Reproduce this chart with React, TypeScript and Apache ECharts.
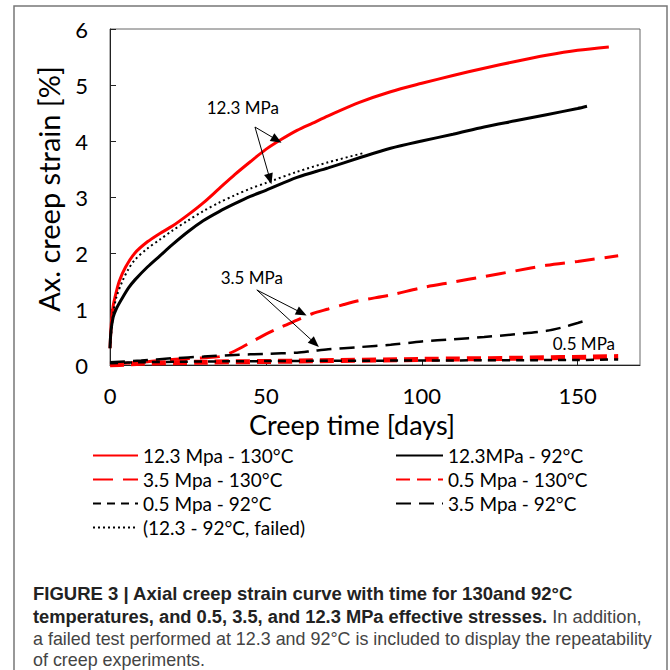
import React, { useEffect, useRef } from "react";
import * as echarts from "echarts";

// ---- data (days, axial creep strain %) ----
const red123_t = [0, 0.5, 1, 2, 3, 5, 8, 12, 16, 20, 25, 30, 35, 40, 45, 50, 55, 60, 65, 70, 80, 90, 100, 110, 120, 130, 140, 150, 160];
const red123_v = [0.3, 0.8, 1.05, 1.3, 1.5, 1.75, 2.0, 2.2, 2.35, 2.48, 2.68, 2.9, 3.15, 3.4, 3.63, 3.85, 4.03, 4.19, 4.32, 4.45, 4.69, 4.88, 5.03, 5.17, 5.3, 5.42, 5.53, 5.62, 5.68];

const blk123_t = [0, 0.3, 1, 2, 4, 6, 8, 12, 16, 20, 25, 30, 35, 40, 45, 50, 60, 70, 80, 90, 100, 110, 120, 130, 140, 150, 153];
const blk123_v = [0.3, 0.6, 0.85, 1.0, 1.2, 1.38, 1.52, 1.75, 1.95, 2.15, 2.38, 2.58, 2.74, 2.88, 3.01, 3.12, 3.35, 3.52, 3.7, 3.87, 4.0, 4.12, 4.25, 4.36, 4.47, 4.58, 4.62];

const failed_t = [0, 1, 2, 4, 6, 8, 12, 16, 20, 25, 30, 35, 40, 45, 50, 60, 70, 81];
const failed_v = [0.3, 0.9, 1.2, 1.5, 1.72, 1.88, 2.08, 2.24, 2.4, 2.58, 2.75, 2.9, 3.03, 3.15, 3.25, 3.45, 3.62, 3.78];

const red35_t = [0, 10, 20, 30, 35, 40, 45, 50, 55, 60, 65, 70, 75, 80, 90, 100, 110, 120, 130, 140, 150, 163];
const red35_v = [0.02, 0.05, 0.1, 0.13, 0.15, 0.25, 0.4, 0.55, 0.68, 0.8, 0.92, 1.0, 1.08, 1.15, 1.25, 1.38, 1.48, 1.58, 1.68, 1.78, 1.85, 1.95];

const blk35_t = [0, 10, 20, 30, 40, 50, 60, 65, 70, 80, 90, 100, 110, 120, 130, 140, 145, 150, 154];
const blk35_v = [0.05, 0.08, 0.12, 0.15, 0.18, 0.2, 0.22, 0.25, 0.28, 0.32, 0.36, 0.42, 0.46, 0.5, 0.55, 0.61, 0.67, 0.75, 0.82];

const blk05_t = [0, 10, 50, 100, 150, 163];
const blk05_v = [0.03, 0.05, 0.07, 0.08, 0.09, 0.1];

const red05_t = [0, 10, 30, 60, 100, 130, 163];
const red05_v = [0.0, 0.03, 0.05, 0.07, 0.1, 0.12, 0.15];

const xTicks = [0, 50, 100, 150];
const yTicks = [0, 1, 2, 3, 4, 5, 6];

const seriesNames = [
  "12.3 Mpa - 130°C",
  "12.3MPa - 92°C",
  "3.5 Mpa - 130°C",
  "0.5 Mpa - 130°C",
  "0.5 Mpa - 92°C",
  "3.5 Mpa - 92°C",
  "(12.3 - 92°C, failed)",
];

const captionBold1 = "FIGURE 3 | Axial creep strain curve with time for 130and 92°C";
const captionBold2 = "temperatures, and 0.5, 3.5, and 12.3 MPa effective stresses.";
const captionNorm2 = " In addition,";
const captionNorm3 = "a failed test performed at 12.3 and 92°C is included to display the repeatability";
const captionNorm4 = "of creep experiments.";

const zip = (t: number[], v: number[]) => t.map((x, i) => [x, v[i]]);

const FONT = "Lato, 'Open Sans', sans-serif";
const CAPFONT = "'Liberation Sans Narrow', 'Liberation Sans', Arial, sans-serif";

export default function App() {
  const ref = useRef<HTMLDivElement>(null);
  useEffect(() => {
    if (!ref.current) return;
    const chart = echarts.init(ref.current, undefined, { renderer: "svg" });

    const mk = (name: string, data: number[][], color: string, width: number, type: any) => ({
      name,
      type: "line",
      data,
      showSymbol: false,
      symbol: "none",
      smooth: 0.3,
      lineStyle: { color, width, type },
      itemStyle: { color },
      z: 3,
    });

    const arrowLines = [
      [{ coord: [46.5, 4.25] }, { coord: [53.5, 4.02] }],
      [{ coord: [46.5, 4.25] }, { coord: [51.3, 3.32] }],
      [{ coord: [47.1, 1.34] }, { coord: [61.5, 0.93] }],
      [{ coord: [47.1, 1.34] }, { coord: [65.7, 0.39] }],
    ];
    const notes = [
      { name: "12.3 MPa", coord: [42.6, 4.6] },
      { name: "3.5 MPa", coord: [45.5, 1.57] },
      { name: "0.5 MPa", coord: [152, 0.39] },
    ];

    const legendCommon = {
      orient: "vertical",
      top: 441,
      itemHeight: 14,
      itemGap: 5,
      itemStyle: { opacity: 0 },
      textStyle: { fontFamily: FONT, fontSize: 19, color: "#000", lineHeight: 19 },
      selectedMode: false,
    };

    chart.setOption({
      animation: false,
      backgroundColor: "#fff",
      grid: { left: 110, top: 29, right: 30, bottom: 305, show: true, borderColor: "#666", borderWidth: 1 },
      xAxis: {
        type: "value",
        min: 0,
        max: 170,
        interval: 50,
        name: "Creep time [days]",
        nameLocation: "middle",
        nameGap: 46,
        nameMoveOverlap: false,
        nameTextStyle: { fontFamily: FONT, fontSize: 27, color: "#000", padding: [0, 46, 0, 0] },
        axisLine: { show: true, lineStyle: { color: "#222", width: 1 } },
        axisTick: { show: true, inside: true, length: 5, lineStyle: { color: "#222" } },
        axisLabel: {
          fontFamily: FONT,
          fontSize: 22,
          color: "#000",
          margin: 19,
          showMaxLabel: false,
          formatter: (v: number) => (xTicks.includes(v) ? String(v) : ""),
        },
        splitLine: { show: false },
      },
      yAxis: {
        type: "value",
        min: 0,
        max: 6,
        interval: 1,
        name: "Ax. creep strain [%]",
        nameLocation: "middle",
        nameGap: 47,
        nameMoveOverlap: false,
        nameTextStyle: { fontFamily: FONT, fontSize: 29, color: "#000", padding: [0, 0, 0, 16] },
        axisLine: { show: true, lineStyle: { color: "#222", width: 1 } },
        axisTick: { show: true, inside: true, length: 6, lineStyle: { color: "#222" } },
        axisLabel: {
          fontFamily: FONT,
          fontSize: 22,
          color: "#000",
          margin: 22,
          formatter: (v: number) => (yTicks.includes(v) ? String(v) : ""),
        },
        splitLine: { show: false },
      },
      legend: [
        {
          ...legendCommon,
          data: [seriesNames[0], seriesNames[2], seriesNames[4], seriesNames[6]],
          left: 87,
          itemWidth: 45,
        },
        {
          ...legendCommon,
          data: [seriesNames[1], seriesNames[3], seriesNames[5]],
          left: 390,
          itemWidth: 47,
        },
      ],
      series: [
        mk(seriesNames[0], zip(red123_t, red123_v), "#ff0000", 3, "solid"),
        mk(seriesNames[1], zip(blk123_t, blk123_v), "#000000", 3, "solid"),
        mk(seriesNames[2], zip(red35_t, red35_v), "#ff0000", 3, [20, 10]),
        mk(seriesNames[3], zip(red05_t, red05_v), "#ff0000", 5, [14, 7]),
        mk(seriesNames[4], zip(blk05_t, blk05_v), "#000000", 2.5, [8, 6]),
        mk(seriesNames[5], zip(blk35_t, blk35_v), "#000000", 2.5, [15, 8]),
        mk(seriesNames[6], zip(failed_t, failed_v), "#000000", 2, [2, 3]),
        {
          name: "annotations",
          type: "scatter",
          data: [],
          silent: true,
          markLine: {
            silent: true,
            symbol: ["none", "triangle"],
            symbolSize: [9, 11],
            lineStyle: { color: "#000", width: 1, type: "solid" },
            label: { show: false },
            data: arrowLines,
            z: 5,
          },
          markPoint: {
            silent: true,
            symbol: "circle",
            symbolSize: 0,
            label: {
              show: true,
              position: "inside",
              fontFamily: FONT,
              fontSize: 17,
              color: "#000",
              formatter: (p: any) => p.name,
            },
            data: notes,
          },
        },
      ],
      graphic: [
        {
          type: "rect",
          shape: { x: 14, y: 6, width: 653, height: 700 },
          style: { fill: "none", stroke: "#777", lineWidth: 1.5 },
          silent: true,
        },
        {
          type: "text",
          left: 33,
          top: 584,
          style: { text: captionBold1, font: `bold 18.5px ${CAPFONT}`, fill: "#222" },
        },
        {
          type: "text",
          left: 33,
          top: 607,
          style: {
            text: `{b|${captionBold2}}{n|${captionNorm2}}`,
            rich: {
              b: { fontFamily: CAPFONT, fontWeight: "bold", fontSize: 18.3, fill: "#222", color: "#222" },
              n: { fontFamily: CAPFONT, fontWeight: "normal", fontSize: 18.3, fill: "#444", color: "#444" },
            },
          },
        },
        {
          type: "text",
          left: 33,
          top: 630,
          style: { text: captionNorm3, font: `17.9px ${CAPFONT}`, fill: "#444" },
        },
        {
          type: "text",
          left: 33,
          top: 651,
          style: { text: captionNorm4, font: `17.9px ${CAPFONT}`, fill: "#444" },
        },
      ],
    });
    return () => chart.dispose();
  }, []);
  return <div ref={ref} style={{ position: "fixed", left: 0, top: 0, width: 670, height: 670 }} />;
}
